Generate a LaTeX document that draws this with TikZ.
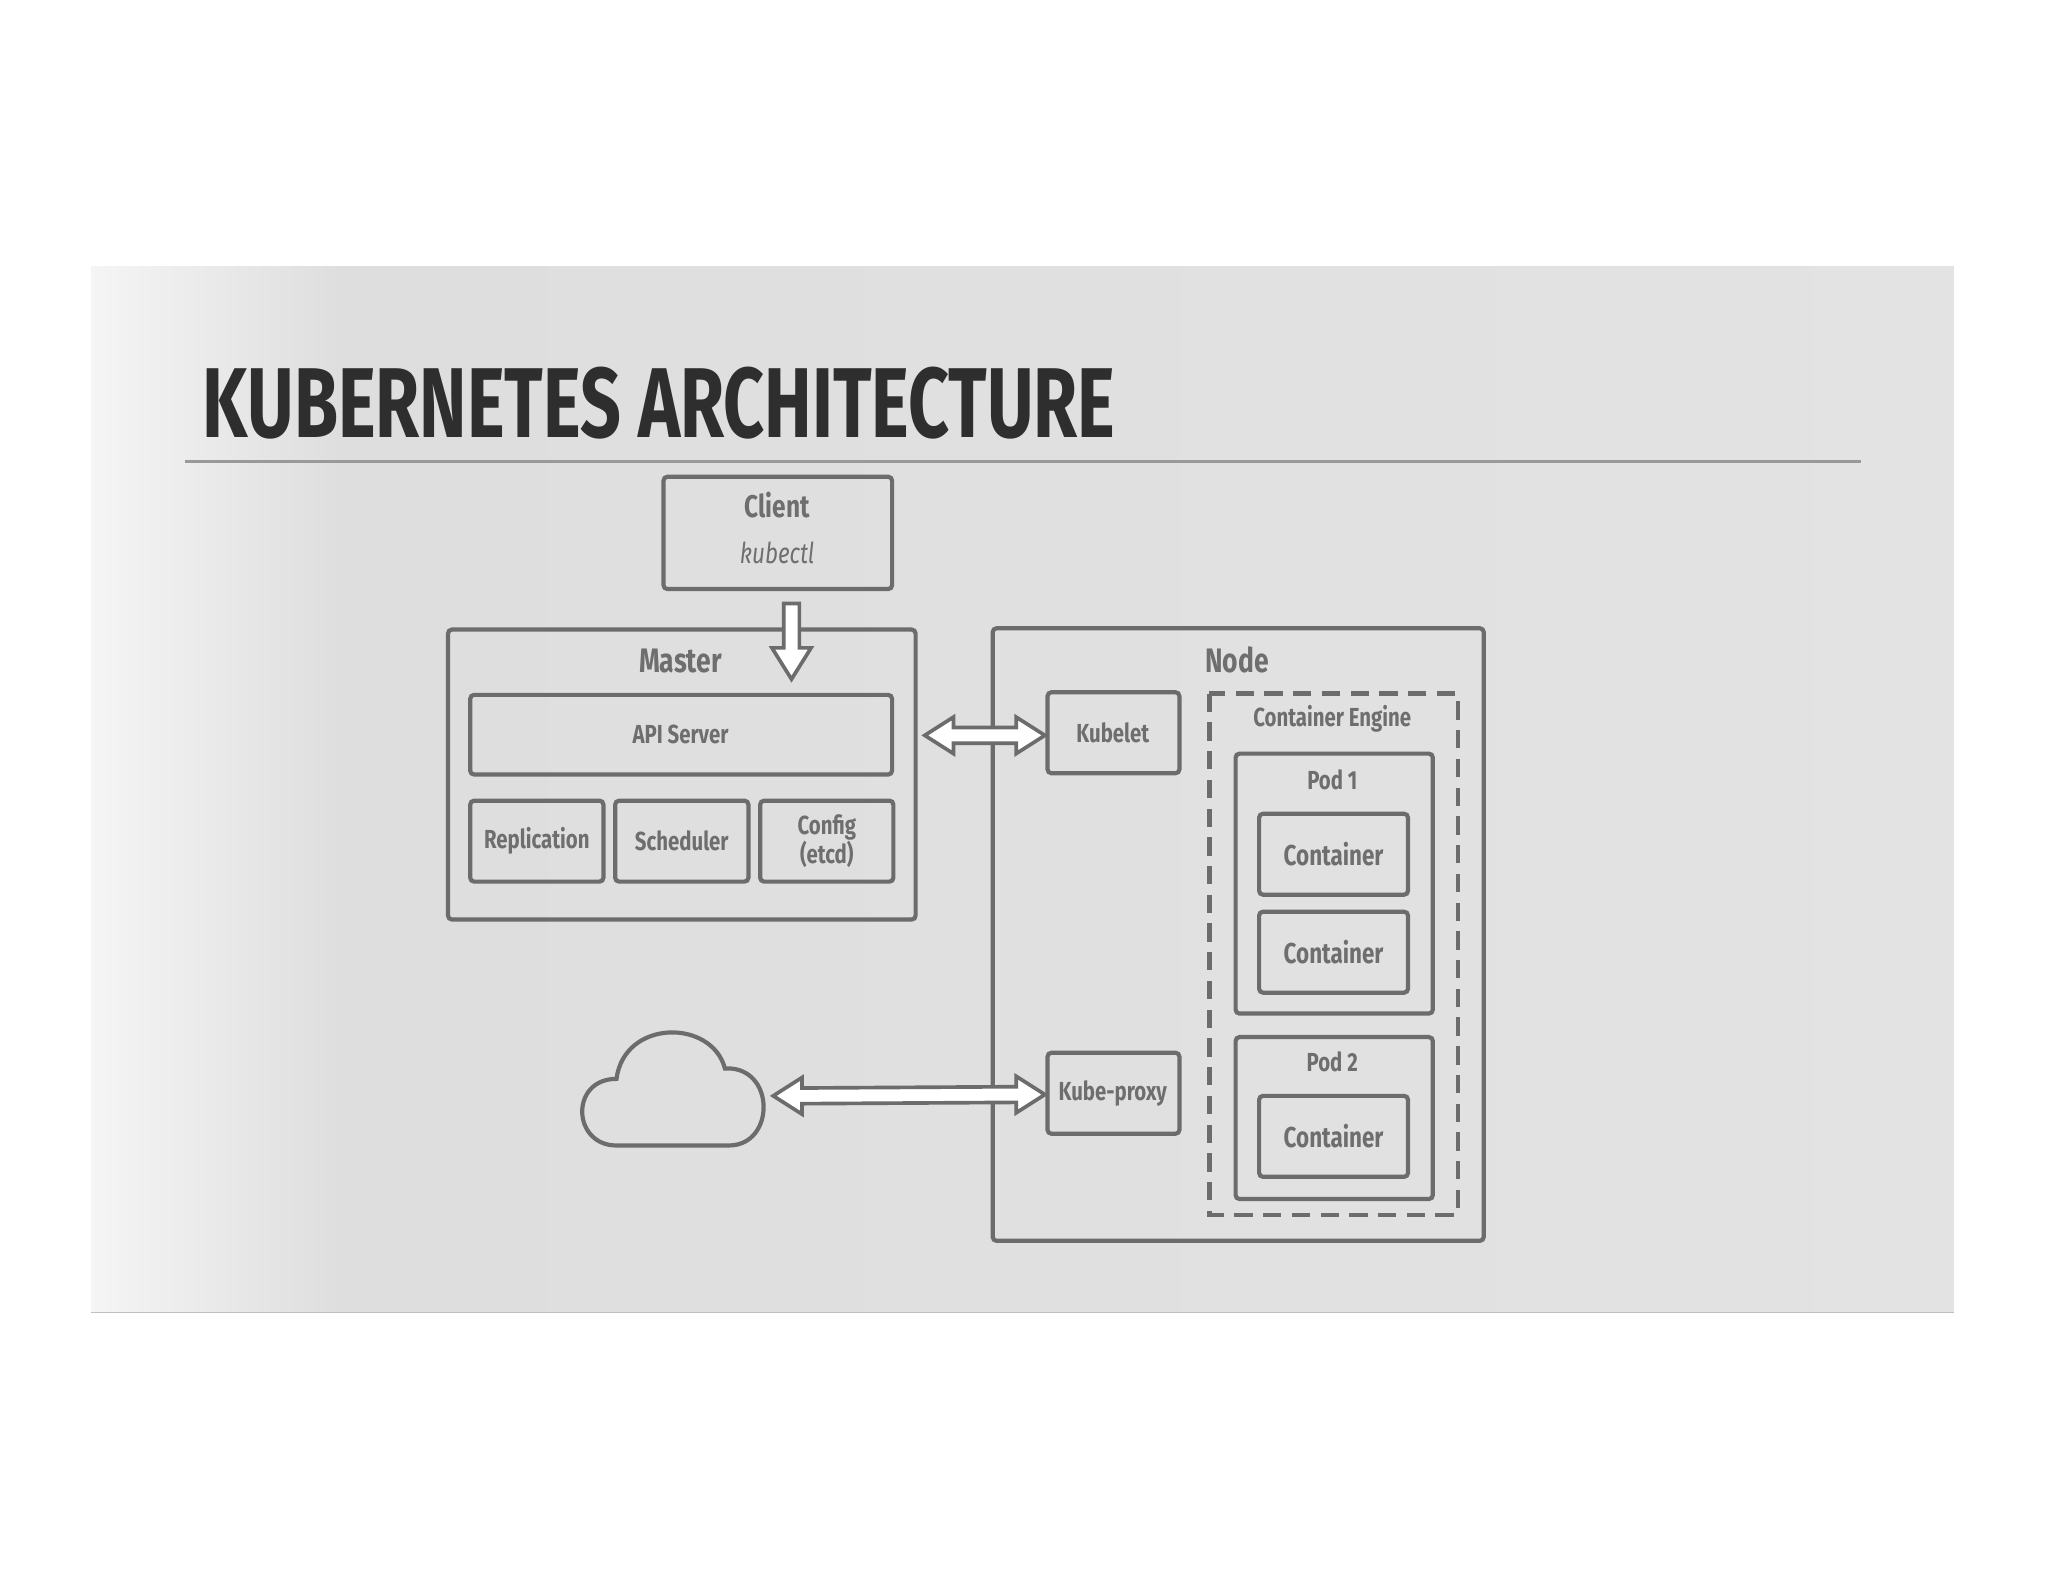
\documentclass[tikz,border=0pt]{standalone}
\usepackage{fontspec}
\setmainfont{Fira Sans}
\newfontfamily\cond[FakeStretch=0.78]{Fira Sans}
\newfontfamily\condb[FakeStretch=0.72]{Fira Sans}
\definecolor{ln}{HTML}{6C6C6C}
\definecolor{tx}{HTML}{6E6E6E}
\tikzset{
  box/.style={draw=ln,line width=1.6pt,rounded corners=1.5pt},
  lbl/.style={text=tx,font=\cond\bfseries\fontsize{10}{11}\selectfont,align=center},
  hollow/.style={draw=ln,line width=1.4pt,fill=white,line join=miter}
}
\begin{document}
\begin{tikzpicture}[x=0.5pt,y=-0.5pt]
\useasboundingbox (0,0) rectangle (1568,1211);
\fill[white] (0,0) rectangle (1568,1211);
\shade[left color=black!4,right color=black!13] (70,204) rectangle (262,1005);
\shade[left color=black!13,right color=black!11] (261,204) rectangle (1496,1005);
\draw[black!25,line width=0.6pt] (70,1005)--(1496,1005);
\node[anchor=base west,inner sep=0,text=black!82,font=\condb\bfseries\fontsize{38}{40}\selectfont] (title) at (155,335) {KUBERNETES ARCHITECTURE};
\draw[black!40,line width=1.2pt] (142,353)--(1425,353);
% client
\draw[box] (508,365) rectangle (683,451);
\node[lbl,font=\cond\bfseries\fontsize{12}{13}\selectfont] (client) at (595,387) {Client};
\node[lbl,font=\cond\itshape\fontsize{11}{12}\selectfont] (kubectl) at (595,423) {kubectl};
% master
\draw[box] (343,482) rectangle (701,704);
\node[lbl,font=\cond\bfseries\fontsize{13}{14}\selectfont] (master) at (521,506) {Master};
\draw[box] (360,532) rectangle (683,593); \node[lbl] (api) at (521,562) {API Server};
\draw[box] (360,613) rectangle (462,675); \node[lbl] (rep) at (411,644) {Replication};
\draw[box] (471,613) rectangle (573,675); \node[lbl] (sch) at (522,644) {Scheduler};
\draw[box] (582,613) rectangle (684,675); \node[lbl] (cfg) at (633,644) {Config\\(etcd)};
% down arrow
\draw[hollow] (600,462)--(612,462)--(612,496)--(621,496)--(606,520)--(591,496)--(600,496)--cycle;
% node
\draw[box] (760,481) rectangle (1136,950);
\node[lbl,font=\cond\bfseries\fontsize{13}{14}\selectfont] (nodel) at (947,505) {Node};
\draw[box] (802,530) rectangle (903,592); \node[lbl] (kubelet) at (852,561) {Kubelet};
\draw[box] (802,806) rectangle (903,868); \node[lbl] (proxy) at (852,837) {Kube-proxy};
\draw[ln,line width=1.6pt,dash pattern=on 7pt off 4pt] (926,531) rectangle (1116,930);
\node[lbl] (ce) at (1020,550) {Container Engine};
\draw[box] (946,577) rectangle (1097,776); \node[lbl] (p1) at (1020,597) {Pod 1};
\draw[box] (964,623) rectangle (1078,685); \node[lbl,font=\cond\bfseries\fontsize{11}{12}\selectfont] (c1) at (1021,654) {Container};
\draw[box] (964,698) rectangle (1078,760); \node[lbl,font=\cond\bfseries\fontsize{11}{12}\selectfont] (c2) at (1021,729) {Container};
\draw[box] (946,794) rectangle (1097,918); \node[lbl] (p2) at (1020,813) {Pod 2};
\draw[box] (964,839) rectangle (1078,901); \node[lbl,font=\cond\bfseries\fontsize{11}{12}\selectfont] (c3) at (1021,870) {Container};
% double arrows
\draw[hollow] (708,563)--(730,549)--(730,557)--(778,557)--(778,549)--(800,563)--(778,577)--(778,569)--(730,569)--(730,577)--cycle;
\draw[hollow] (592,839)--(614,825)--(614,833)--(778,832)--(778,824)--(800,838)--(778,852)--(778,844)--(614,845)--(614,853)--cycle;
% cloud
\draw[ln,line width=1.6pt] (472,877) .. controls (438,877) and (436,826) .. (472,826) .. controls (478,780) and (545,780) .. (555,818) .. controls (594,816) and (594,877) .. (558,877) -- cycle;
\end{tikzpicture}
\end{document}
